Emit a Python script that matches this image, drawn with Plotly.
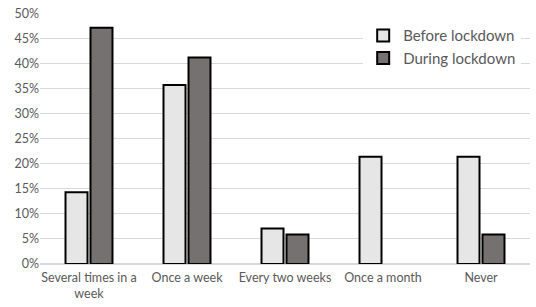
import plotly.graph_objects as go

categories = ["Several times in a<br>week", "Once a week", "Every two weeks", "Once a month", "Never"]
before = [14.3, 35.7, 7.1, 21.4, 21.4]
during = [47.1, 41.2, 5.9, 0.0, 5.9]
tick_vals = [0, 5, 10, 15, 20, 25, 30, 35, 40, 45, 50]
tick_text = [f"{v}%" for v in tick_vals]

font_family = "Lato, Open Sans, sans-serif"
txt_color = "#595959"

during_line_w = [0 if v == 0 else 2 for v in during]

fig = go.Figure()
fig.add_trace(go.Bar(x=categories, y=before, name="Before lockdown",
                     marker=dict(color="#e7e6e6", line=dict(color="#000000", width=2))))
fig.add_trace(go.Bar(x=categories, y=during, name="During lockdown",
                     marker=dict(color="#767171", line=dict(color="#000000", width=during_line_w))))

fig.update_layout(
    width=536, height=307,
    margin=dict(l=40, r=6, t=9, b=42),
    paper_bgcolor="white", plot_bgcolor="white",
    barmode="group", bargap=0.49, bargroupgap=0.12,
    font=dict(family=font_family, size=13, color=txt_color),
    legend=dict(x=0.982, y=0.975, xanchor="right", yanchor="top",
                bgcolor="white", font=dict(size=15, color=txt_color),
                itemwidth=30, tracegroupgap=4),
    showlegend=True,
)
fig.update_yaxes(range=[0, 50.05], tickvals=tick_vals, ticktext=tick_text,
                 showgrid=True, gridcolor="#d9d9d9", gridwidth=1,
                 zeroline=True, zerolinecolor="#d9d9d9", showline=False,
                 ticks="", tickfont=dict(size=12.5, color=txt_color))
fig.update_xaxes(showline=False, ticks="", ticklabelstandoff=4,
                 tickfont=dict(size=12.5, color=txt_color))

fig.write_html("out.html", config={"displayModeBar": False},
               post_script="document.body.style.margin='0';")
